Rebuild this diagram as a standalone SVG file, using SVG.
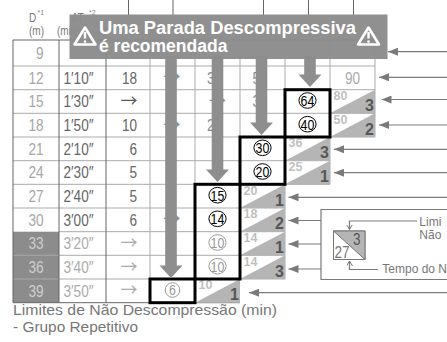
<svg xmlns="http://www.w3.org/2000/svg" width="447" height="342" viewBox="0 0 447 342">
<defs>
<style>
.n{font-family:"Liberation Sans",Arial,sans-serif;font-size:17px}
.d{fill:#a6a6a6;text-anchor:end}
.dg{fill:#cfcfcf;text-anchor:end}
.at{fill:#666;text-anchor:middle}
.atl{fill:#ababab;text-anchor:middle}
.c3{fill:#666;text-anchor:end}
.aw{font-family:"Noto Sans CJK JP","Noto Sans CJK SC",sans-serif;font-size:17px;text-anchor:middle}
.ar{fill:#5a5a5a}
.arl{fill:#ababab}
.hid{fill:#8a8a8a}
.gl{stroke:#ababab;stroke-width:1;fill:none}
.gd{stroke:#666;stroke-width:1;fill:none}
.gw{stroke:#a8a8a8;stroke-width:1;fill:none}
.box{fill:none;stroke:#000;stroke-width:3}
.tri{fill:#b5b5b5}
.tl{font-family:"Liberation Sans",Arial,sans-serif;font-weight:bold;font-size:12.5px;fill:#bfbfbf}
.tr{font-family:"Liberation Sans",Arial,sans-serif;font-weight:bold;font-size:16px;fill:#575757;text-anchor:end}
.ci{fill:#fff;stroke:#000;stroke-width:1}
.cig{fill:#fff;stroke:#9a9a9a;stroke-width:1}
.cn{font-family:"Liberation Sans",Arial,sans-serif;font-size:15.5px;text-anchor:middle;fill:#000}
.cng{fill:#999}
.va{fill:#8e8e8e}
.pl{stroke:#7a7a7a;stroke-width:1.2;fill:none}
.lg{font-family:"Liberation Sans",Arial,sans-serif;font-size:12px;fill:#777}
.ft{font-family:"Liberation Sans",Arial,sans-serif;font-size:14.5px;fill:#777}
.hd{font-family:"Liberation Sans",Arial,sans-serif;font-size:12.5px;fill:#777}
.sup{font-family:"Liberation Sans",Arial,sans-serif;font-size:7px;fill:#888}
.bt{font-family:"Liberation Sans",Arial,sans-serif;font-weight:bold;font-size:17.5px;fill:#fff}
.wi{fill:none;stroke:#fff;stroke-width:2.6;stroke-linejoin:round}
</style>
<marker id="ah" markerWidth="11" markerHeight="8" refX="10" refY="4" orient="auto" markerUnits="userSpaceOnUse"><path d="M0,0 L10,4 L0,8 z" fill="#7a7a7a"/></marker>
<marker id="ch" markerWidth="7" markerHeight="7" refX="5" refY="3" orient="auto" markerUnits="userSpaceOnUse"><path d="M0,0 L5,3 L0,6" fill="none" stroke="#777" stroke-width="1"/></marker>
</defs>
<rect width="447" height="342" fill="#fff"/>

<g id="header">
<path class="gd" d="M128.5,0V15M173,0V15M263.5,0V15M308.5,0V15M353.5,0V15"/>
<g transform="scale(0.8,1)">
<text class="hd" x="36.25" y="22">D</text>
<text class="hd" x="45.625" y="35" text-anchor="middle">(m)</text>
<text class="hd" x="89.375" y="22">AT</text>
<text class="hd" x="71.25" y="35">(min)</text>
</g>
<text class="sup" x="37.5" y="15">*1</text>
<text class="sup" x="89" y="15">*2</text>
</g>

<g id="grid">
<rect x="13" y="231.7" width="46" height="71" fill="#8c8c8c"/>
<path class="gl" d="M13,66H375M13,89.7H375M13,113.3H375M13,137H375M13,160.7H330M13,184.3H330M13,208H285M59,231.7H285M59,255.3H285M59,279H285"/>
<path class="gw" d="M13,255.3H59M13,279H59"/>
<path class="gl" d="M150,40V302.7M195,40V302.7M240,40V279M285,40V279M330,40V184.3M375,40V137"/>
<path class="gd" d="M13,40H375M13,40V302.7M59,40V302.7M106,40V302.7M13,302.7H240"/>
</g>

<g id="triangles">
<polygon class="tri" points="330,113.3 375,89.7 375,113.3"/>
<polygon class="tri" points="330,137 375,113.3 375,137"/>
<polygon class="tri" points="285,160.7 330,137 330,160.7"/>
<polygon class="tri" points="285,184.3 330,160.7 330,184.3"/>
<polygon class="tri" points="240,208 285,184.3 285,208"/>
<polygon class="tri" points="240,231.7 285,208 285,231.7"/>
<polygon class="tri" points="240,255.3 285,231.7 285,255.3"/>
<polygon class="tri" points="240,279 285,255.3 285,279"/>
<polygon class="tri" points="195,302.7 240,279 240,302.7"/>
<text class="tl" x="333.5" y="100">80</text><text class="tr" x="374" y="110.8">3</text>
<text class="tl" x="333.5" y="123.6">50</text><text class="tr" x="374" y="134.5">2</text>
<text class="tl" x="288.5" y="147.3">36</text><text class="tr" x="329" y="158.2">3</text>
<text class="tl" x="288.5" y="171">25</text><text class="tr" x="329" y="181.8">1</text>
<text class="tl" x="243.5" y="194.6">20</text><text class="tr" x="284" y="205.5">1</text>
<text class="tl" x="243.5" y="218.3">18</text><text class="tr" x="284" y="229.2">2</text>
<text class="tl" x="243.5" y="242">14</text><text class="tr" x="284" y="252.8">1</text>
<text class="tl" x="243.5" y="265.6">14</text><text class="tr" x="284" y="276.5">3</text>
<text class="tl" x="198.5" y="289.3">10</text><text class="tr" x="239" y="300.2">1</text>
</g>

<g id="table-text">
<g class="n" transform="scale(0.8,1)">
<text x="440.625" y="83.9" text-anchor="middle" fill="#ababab">90</text>
<text class="d" x="54.375" y="59">9</text>
<text class="d" x="54.375" y="83.9">12</text>
<text class="d" x="54.375" y="107.5">15</text>
<text class="d" x="54.375" y="131.2">18</text>
<text class="d" x="54.375" y="154.9">21</text>
<text class="d" x="54.375" y="178.5">24</text>
<text class="d" x="54.375" y="202.2">27</text>
<text class="d" x="54.375" y="225.9">30</text>
<text class="dg" x="54.375" y="249.5">33</text>
<text class="dg" x="54.375" y="273.2">36</text>
<text class="dg" x="54.375" y="296.9">39</text>
<text class="at" x="98.125" y="83.9">1′10″</text>
<text class="at" x="98.125" y="107.5">1′30″</text>
<text class="at" x="98.125" y="131.2">1′50″</text>
<text class="at" x="98.125" y="154.9">2′10″</text>
<text class="at" x="98.125" y="178.5">2′30″</text>
<text class="at" x="98.125" y="202.2">2′40″</text>
<text class="at" x="98.125" y="225.9">3′00″</text>
<text class="atl" x="98.125" y="249.5">3′20″</text>
<text class="atl" x="98.125" y="273.2">3′40″</text>
<text class="atl" x="98.125" y="296.9">3′50″</text>
<text class="c3" x="171.25" y="83.9">18</text>
<text class="c3" x="171.25" y="131.2">10</text>
<text class="c3" x="171.25" y="154.9">6</text>
<text class="c3" x="171.25" y="178.5">5</text>
<text class="c3" x="171.25" y="202.2">5</text>
<text class="c3" x="171.25" y="225.9">6</text>
<text class="hid" x="258.75" y="83.9">3</text>
<text class="hid" x="258.75" y="131.2">2</text>
<text class="hid" x="315.625" y="83.9">5</text>
<text class="hid" x="315.625" y="107.5">3</text>
</g>
<text class="aw ar" x="129" y="107">→</text>
<text class="aw arl" x="129" y="249">→</text>
<text class="aw arl" x="129" y="272.7">→</text>
<text class="aw arl" x="129" y="296.4">→</text>
<text class="aw hid" x="172" y="83.4">→</text>
<text class="aw hid" x="172" y="130.7">→</text>
<text class="aw hid" x="172" y="225.4">→</text>
<text class="aw hid" x="217.5" y="107">→</text>
</g>

<g id="circled">
<ellipse class="ci" cx="307.5" cy="100.5" rx="8.6" ry="7.8"/>
<ellipse class="ci" cx="307.5" cy="124.2" rx="8.6" ry="7.8"/>
<ellipse class="ci" cx="262.5" cy="147.8" rx="8.6" ry="7.8"/>
<ellipse class="ci" cx="262.5" cy="171.5" rx="8.6" ry="7.8"/>
<ellipse class="ci" cx="217.5" cy="195.2" rx="8.6" ry="7.8"/>
<ellipse class="ci" cx="217.5" cy="218.8" rx="8.6" ry="7.8"/>
<ellipse class="cig" cx="217.5" cy="242.5" rx="8.6" ry="7.8"/>
<ellipse class="cig" cx="217.5" cy="266.2" rx="8.6" ry="7.8"/>
<ellipse class="cig" cx="172.5" cy="290" rx="7.3" ry="7.3"/>
<g transform="scale(0.8,1)">
<text class="cn" x="384.375" y="106">64</text>
<text class="cn" x="384.375" y="129.7">40</text>
<text class="cn" x="328.125" y="153.3">30</text>
<text class="cn" x="328.125" y="177">20</text>
<text class="cn" x="271.875" y="200.7">15</text>
<text class="cn" x="271.875" y="224.3">14</text>
<text class="cn cng" x="271.875" y="248">10</text>
<text class="cn cng" x="271.875" y="271.7">10</text>
<text class="cn cng" x="215.625" y="295.5">6</text>
</g>
</g>

<g id="boxes">
<rect class="box" x="285" y="89.7" width="45" height="47.3"/>
<rect class="box" x="240" y="137" width="45" height="47.3"/>
<rect class="box" x="195" y="184.3" width="45" height="94.7"/>
<rect class="box" x="150" y="279" width="45" height="23.7"/>
</g>

<g id="down-arrows">
<path class="va" d="M165.2,56V265.5H159.5L171,278L182.5,265.5H176.8V56Z"/>
<path class="va" d="M211.7,56V169.5H206L217.5,182L229,169.5H223.3V56Z"/>
<path class="va" d="M255.7,56V122.5H250L261.5,135L273,122.5H267.3V56Z"/>
<path class="va" d="M304.2,56V74.5H298.5L310,87L321.5,74.5H315.8V56Z"/>
</g>

<g id="banner">
<rect x="69.5" y="14.5" width="318" height="44.5" fill="#8b8b8b" opacity="0.96"/>
<path class="wi" d="M85,27.5L74.5,44.5H95.5Z"/>
<path d="M85,32V38.5" stroke="#fff" stroke-width="2.4"/><circle cx="85" cy="41.6" r="1.3" fill="#fff"/>
<path class="wi" d="M368.5,27.5L358,44.5H379Z"/>
<path d="M368.5,32V38.5" stroke="#fff" stroke-width="2.4"/><circle cx="368.5" cy="41.6" r="1.3" fill="#fff"/>
<text class="bt" x="99" y="33.5" textLength="257" lengthAdjust="spacingAndGlyphs">Uma Parada Descompressiva</text>
<text class="bt" x="99" y="52">é recomendada</text>
</g>

<g id="connectors">
<path class="pl" marker-end="url(#ah)" d="M447,51.7H388"/>
<path class="pl" marker-end="url(#ah)" d="M447,77.3H379"/>
<path class="pl" marker-end="url(#ah)" d="M447,99.5H381.5"/>
<path class="pl" marker-end="url(#ah)" d="M447,125H379"/>
<path class="pl" marker-end="url(#ah)" d="M447,149.3H334"/>
<path class="pl" marker-end="url(#ah)" d="M447,172.7H334"/>
<path class="pl" marker-end="url(#ah)" d="M447,197.3H288.5"/>
<path class="pl" marker-end="url(#ah)" d="M321,220.5H288.5"/>
<path class="pl" marker-end="url(#ah)" d="M321,244H288.5"/>
<path class="pl" marker-end="url(#ah)" d="M321,269H288.5"/>
<path class="pl" marker-end="url(#ah)" d="M447,292.7H249"/>
<path class="pl" d="M450,209.5H321V279.5H450"/>
<path class="pl" marker-end="url(#ch)" d="M417,221H349.5V229.5"/>
<path class="pl" marker-end="url(#ch)" d="M378,269.5H349.5V261"/>
</g>

<g id="legend">
<rect x="333.5" y="231" width="31.5" height="28.5" fill="#fff" stroke="#777" stroke-width="1"/>
<polygon points="333.5,231 365,231 365,259.5" fill="#b5b5b5" stroke="#777" stroke-width="1"/>
<g transform="scale(0.8,1)">
<text class="n" x="441.25" y="245" font-size="14" fill="#555">3</text>
<text class="n" x="418.125" y="258" font-size="14" fill="#777">27</text>
</g>
<text class="lg" x="419.3" y="226">Limi</text>
<text class="lg" x="419.3" y="238.5">Não</text>
<text class="lg" x="382.3" y="273">Tempo do N</text>
</g>

<g id="footer">
<text class="ft" x="13" y="315" textLength="264" lengthAdjust="spacingAndGlyphs">Limites de Não Descompressão (min)</text>
<text class="ft" x="13" y="331.5" textLength="125" lengthAdjust="spacingAndGlyphs">- Grupo Repetitivo</text>
</g>
</svg>
